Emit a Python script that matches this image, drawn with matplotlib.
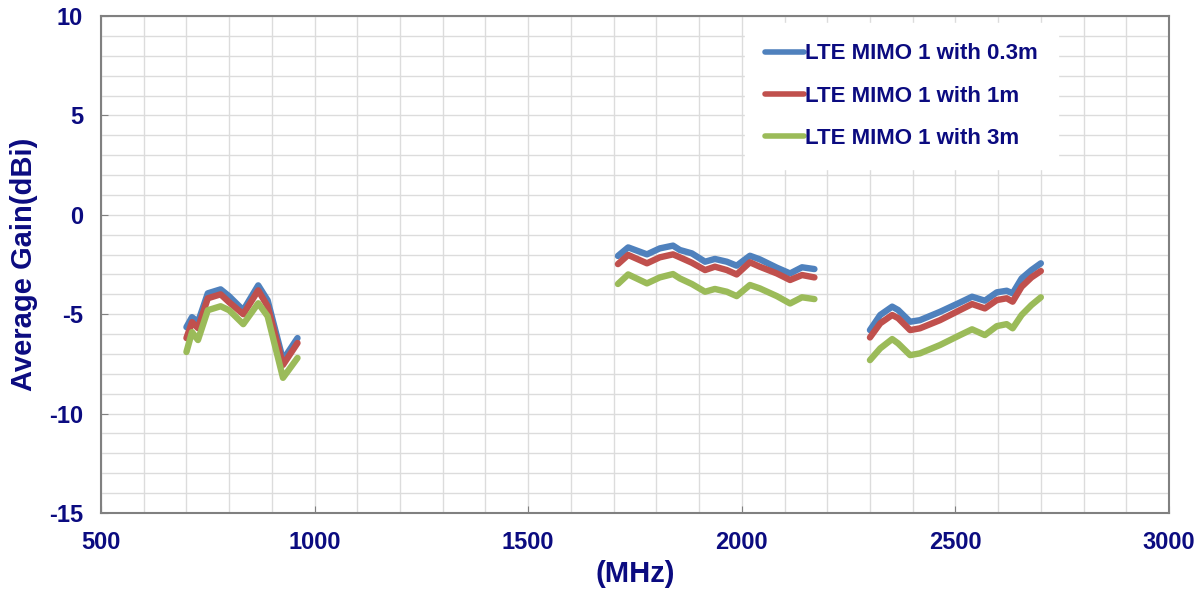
import numpy as np
import matplotlib.pyplot as plt
from matplotlib.ticker import MultipleLocator

# frequency points (MHz) for the three measured bands
freq_low = [700, 713, 727, 750, 780, 800, 833, 868, 890, 926, 960]
freq_mid = [1710, 1734, 1778, 1808, 1839, 1855, 1883, 1914, 1937, 1965,
            1988, 2019, 2042, 2082, 2113, 2141, 2170]
freq_high = [2300, 2324, 2352, 2366, 2394, 2417, 2464, 2511, 2539, 2569,
             2597, 2620, 2634, 2655, 2678, 2700]

# average gain (dBi), 0.3 m cable
gain_03_low = [-5.65, -5.15, -5.4, -3.95, -3.75, -4.1, -4.8, -3.55, -4.3, -7.3, -6.2]
gain_03_mid = [-2.07, -1.64, -1.99, -1.69, -1.55, -1.77, -1.94, -2.36, -2.22, -2.36,
               -2.56, -2.06, -2.24, -2.66, -2.95, -2.64, -2.73]
gain_03_high = [-5.8, -5.04, -4.62, -4.79, -5.38, -5.3, -4.88, -4.41, -4.12, -4.32,
                -3.9, -3.82, -3.95, -3.2, -2.78, -2.44]

# average gain (dBi), 1 m cable
gain_1_low = [-6.2, -5.4, -5.7, -4.2, -4.0, -4.4, -5.0, -3.8, -4.6, -7.55, -6.45]
gain_1_mid = [-2.48, -2.02, -2.44, -2.14, -1.99, -2.14, -2.41, -2.78, -2.61, -2.78,
              -3.0, -2.39, -2.61, -2.95, -3.28, -3.03, -3.15]
gain_1_high = [-6.17, -5.46, -5.04, -5.2, -5.8, -5.71, -5.3, -4.79, -4.49, -4.71,
               -4.29, -4.2, -4.37, -3.62, -3.15, -2.83]

# average gain (dBi), 3 m cable
gain_3_low = [-6.9, -5.9, -6.3, -4.8, -4.6, -4.8, -5.5, -4.45, -5.1, -8.2, -7.2]
gain_3_mid = [-3.48, -3.0, -3.45, -3.15, -2.98, -3.2, -3.48, -3.87, -3.73, -3.87,
              -4.09, -3.53, -3.7, -4.09, -4.46, -4.15, -4.24]
gain_3_high = [-7.31, -6.72, -6.25, -6.47, -7.06, -6.97, -6.55, -6.05, -5.76, -6.05,
               -5.6, -5.5, -5.71, -5.04, -4.54, -4.15]

labels = ["LTE MIMO 1 with 0.3m", "LTE MIMO 1 with 1m", "LTE MIMO 1 with 3m"]
colors = ["#4F81BD", "#C0504D", "#9BBB59"]
text_color = "#0B0B80"


def join_bands(*parts):
    # put NaN between bands so the line breaks
    out = []
    for p in parts:
        out += list(p) + [np.nan]
    return np.array(out[:-1], dtype=float)


def main():
    plt.rcParams['font.family'] = ['Liberation Sans', 'DejaVu Sans']
    plt.rcParams['font.weight'] = 'bold'
    plt.rcParams['axes.unicode_minus'] = False

    freq = join_bands(freq_low, freq_mid, freq_high)
    series = [
        join_bands(gain_03_low, gain_03_mid, gain_03_high),
        join_bands(gain_1_low, gain_1_mid, gain_1_high),
        join_bands(gain_3_low, gain_3_mid, gain_3_high),
    ]

    fig = plt.figure(figsize=(11.99, 5.95), dpi=100)
    ax = fig.add_axes([101 / 1199, 1 - 513 / 595, 1068 / 1199, 497 / 595])

    for gain, lab, col in zip(series, labels, colors):
        ax.plot(freq, gain, color=col, lw=4.6, label=lab,
                solid_joinstyle='round', solid_capstyle='round')

    ax.set_xlim(500, 3000)
    ax.set_ylim(-15, 10)
    ax.xaxis.set_major_locator(MultipleLocator(500))
    ax.xaxis.set_minor_locator(MultipleLocator(100))
    ax.yaxis.set_major_locator(MultipleLocator(5))
    ax.yaxis.set_minor_locator(MultipleLocator(1))
    ax.grid(which='both', color='#DCDCDC', lw=1.0)
    ax.set_axisbelow(True)

    ax.tick_params(which='major', direction='in', length=5, color='#808080',
                   labelsize=17, labelcolor=text_color)
    ax.tick_params(axis='x', which='major', pad=13)
    ax.tick_params(axis='y', which='major', pad=13)
    ax.tick_params(which='minor', length=0)
    for s in ax.spines.values():
        s.set_color('#808080')
        s.set_linewidth(1.5)

    ax.set_xlabel('(MHz)', fontsize=21, fontweight='bold', color=text_color, labelpad=4)
    ax.set_ylabel('Average Gain(dBi)', fontsize=21, fontweight='bold',
                  color=text_color, labelpad=8)

    leg = ax.legend(loc='upper left', bbox_to_anchor=(0.603, 0.985), fontsize=16,
                    frameon=True, fancybox=False, framealpha=1, edgecolor='white',
                    handlelength=1.75, handletextpad=0.05, labelspacing=0.95,
                    borderpad=0.9, borderaxespad=0)
    for t in leg.get_texts():
        t.set_color(text_color)
    for h in leg.get_lines():
        h.set_linewidth(4.0)

    fig.savefig('out.png', dpi=100)


if __name__ == "__main__":
    main()
